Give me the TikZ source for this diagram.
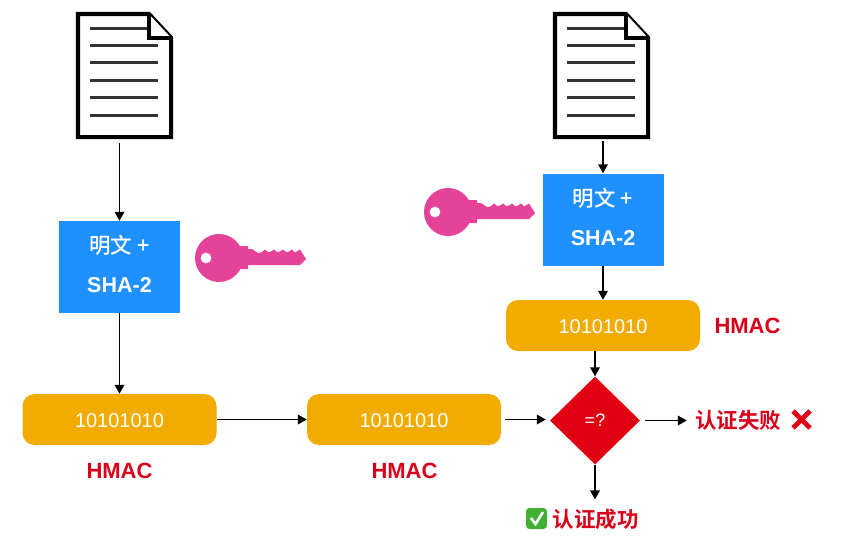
\documentclass[tikz,border=0pt]{standalone}
\usepackage{fontspec}
\setmainfont{Liberation Sans}
\newfontfamily\cjk[BoldFont={Noto Sans CJK SC Medium}]{Noto Sans CJK SC}
\newfontfamily\cjkbold{Noto Sans CJK SC Bold}
\usetikzlibrary{shapes.geometric,calc,arrows.meta}
\definecolor{bluebox}{HTML}{1E90FF}
\definecolor{orangebox}{HTML}{F2AB00}
\definecolor{redbox}{HTML}{E00012}
\definecolor{keypink}{HTML}{E5439A}
\definecolor{textred}{HTML}{D9001B}
\definecolor{okgreen}{HTML}{3FB02F}
\newcommand{\bluetext}{明文 +\\{\fontspec{Liberation Sans}\bfseries SHA-2}\rule[-6pt]{0pt}{1pt}}
\newcommand{\bitstext}{\rule{0pt}{17pt}10101010}
\tikzset{
  x=1pt,y=-1pt,
  conn/.style={draw=black,line width=1.8pt,-{Triangle[length=9pt,width=9.5pt]}},
  docbox/.style={minimum width=97pt,minimum height=127pt,inner sep=0pt},
  bluenode/.style={fill=bluebox,minimum width=121pt,minimum height=92pt,inner sep=0pt,align=center,text=white,font=\fontsize{21.5}{39}\cjk\bfseries},
  hmacbox/.style={fill=orangebox,rounded corners=12pt,minimum width=194pt,minimum height=51pt,inner sep=0pt,text=white,font=\fontsize{20}{22}\selectfont},
  decision/.style={diamond,fill=redbox,aspect=1,minimum width=90pt,minimum height=88pt,inner sep=0pt,text=white,font=\fontsize{18}{20}\selectfont},
  hmaclabel/.style={text=textred,font=\fontsize{22}{24}\selectfont\bfseries,inner sep=0pt},
  resultlabel/.style={text=textred,font=\fontsize{21.5}{24}\cjkbold,inner sep=0pt},
  docline/.style={line width=3pt,draw=black!80},
  docframe/.style={line width=4.2pt,draw=black,fill=white,line join=miter},
  pics/keyicon/.style={code={
    \fill[keypink,even odd rule] (0,0) circle[radius=24]
      (-13,0) circle[radius=5.5];
    \fill[keypink] (18,-12) -- (29,-12) -- (29,-9) -- (33,-9) -- (39,-5) .. controls (42,-5) .. (46,-8.5) .. controls (50,-5) .. (55,-8.5) .. controls (59,-5) .. (64,-8.5) .. controls (68,-5) .. (73,-8.5) -- (76,-5.5) -- (81,-8.5) -- (87,1) -- (81,7) -- (29,7) -- (29,11) -- (18,11) -- cycle;
  }}
}
\newcommand{\docicon}[1]{%
  \draw[docframe] ($(#1.north west)+(2.1,2.1)$) -- ++(71,0) -- ($(#1.north east)+(-2.1,26)$) -- ($(#1.south east)+(-2.1,-2.1)$) -- ($(#1.south west)+(2.1,-2.1)$) -- cycle;
  \draw[docframe] ($(#1.north west)+(73,2.1)$) -- ++(0,23.9) -- ($(#1.north east)+(-2.1,26)$);
  \draw[docline] ($(#1.north west)+(14,17)$) -- ++(57,0);
  \foreach \yy in {34,51,69,86,104}{\draw[docline] ($(#1.north west)+(14,\yy)$) -- ++(68,0);}
}
\begin{document}
\begin{tikzpicture}
\useasboundingbox (0,0) rectangle (848,547);
\fill[white] (0,0) rectangle (848,547);
% nodes
\node[docbox] (ldoc) at (124.5,75.5) {};
\node[docbox] (rdoc) at (601.5,75.5) {};
\node[bluenode] (lblue) at (119.5,267) {\bluetext};
\node[bluenode] (rblue) at (603,219.5) {\bluetext};
\node[hmacbox] (a) at (119.5,419.5) {\bitstext};
\node[hmacbox] (b) at (404,419.5) {\bitstext};
\node[hmacbox] (c) at (603,325.5) {\bitstext};
\node[decision] (d) at (595,420.5) {=?};
\node[hmaclabel] (la) at (119.5,471) {HMAC};
\node[hmaclabel] (lb) at (404.5,471) {HMAC};
\node[hmaclabel] (lc) at (747.5,326) {HMAC};
\node[resultlabel] (fail) at (738,420) {认证失败};
\node[resultlabel] (ok) at (595.5,519) {认证成功};
\coordinate (xmark) at (801.5,419.5);
\coordinate (lkey) at (219,258);
\coordinate (rkey) at (448,212);
% icons
\docicon{ldoc}
\docicon{rdoc}
\pic at (lkey) {keyicon};
\pic at (rkey) {keyicon};
\draw[line width=4.8pt,draw=redbox] ($(xmark)+(-8.5,-8.5)$) -- ($(xmark)+(8.5,8.5)$) ($(xmark)+(8.5,-8.5)$) -- ($(xmark)+(-8.5,8.5)$);
\fill[okgreen,rounded corners=3.5pt] (526,508) rectangle (547,529);
\draw[white,line width=2.6pt] (531,518) -- (535.5,524) -- (543,512);
% connectors
\draw[conn] ([yshift=-4pt]ldoc.south -| lblue.north) -- (lblue.north);
\draw[conn] (lblue.south) -- (a.north -| lblue.south);
\draw[conn] (a.east) -- (b.west);
\draw[conn] ([xshift=4pt]b.east) -- ([xshift=-4pt]d.west |- b.east);
\draw[conn] ([yshift=-2pt]rdoc.south -| rblue.north) -- (rblue.north);
\draw[conn] (rblue.south) -- (c.north -| rblue.south);
\draw[conn] (c.south -| d.north) -- (d.north);
\draw[conn] ([xshift=5pt]d.east) -- ([xshift=-8pt]fail.west |- d.east);
\draw[conn] (d.south) -- ([yshift=9pt]ok.north -| d.south);
\end{tikzpicture}
\end{document}
